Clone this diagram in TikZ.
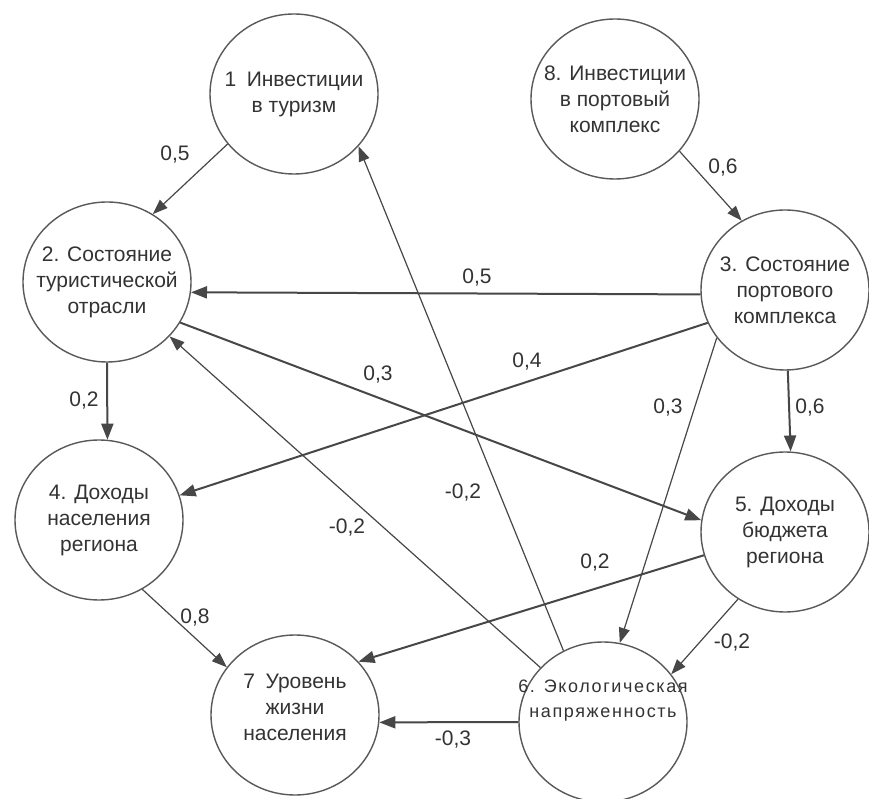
\documentclass[tikz,border=0pt]{standalone}
\usepackage{fontspec}
\setmainfont{Liberation Sans}
\usetikzlibrary{shapes.geometric,arrows.meta}
\begin{document}
\begin{tikzpicture}[x=1pt,y=1pt,
 state/.style={ellipse, draw=black!65, line width=1.4pt, minimum width=168pt, minimum height=160pt,
   inner xsep=-60pt, inner ysep=0pt, align=center, text=black!80, font=\fontsize{21}{26}\selectfont},
 thinarrow/.style={draw=black!72, line width=1.2pt, -{Triangle[length=15pt,width=11pt]}},
 thickarrow/.style={draw=black!72, line width=2pt, -{Triangle[length=16pt,width=12pt]}},
 lbl/.style={text=black!80, font=\fontsize{21}{24}\selectfont, inner sep=0pt}]
\useasboundingbox (0,0) rectangle (869,798);
\fill[white] (0,0) rectangle (869,798);
% states
\node[state] (n1) at (294,704) {1\enspace Инвестиции\\в туризм};
\node[state] (n2) at (107,516) {2. Состояние\\туристической\\отрасли};
\node[state] (n8) at (615,699) {8. Инвестиции\\в портовый\\комплекс};
\node[state] (n3) at (785,508) {3. Состояние\\портового\\комплекса};
\node[state] (n4) at (99,278) {4. Доходы\\населения\\региона};
\node[state] (n5) at (785,266) {5. Доходы\\бюджета\\региона};
\node[state, font=\fontsize{18}{25}\selectfont\addfontfeatures{LetterSpace=9}] (n6) at (603,76) {6. Экологическая\\напряженность\\[22pt]};
\node[state] (n7) at (295,83) {7\enspace Уровень\\жизни\\населения\\[-10pt]};
% connectors
\draw[thinarrow] (n1.217) -- (n2.56);
\draw[thinarrow] (n8.321) -- (n3.122);
\draw[thickarrow] (n3.183) -- (n2.353);
\draw[thickarrow] (n3.203) -- (n4.17);
\draw[thinarrow] (n3.215) -- (n6.78);
\draw[thickarrow] (n3.272) -- (n5.86);
\draw[thickarrow] (n2.270) -- (n4.84);
\draw[thickarrow] (n2.331) -- (n5.172);
\draw[thinarrow] (n6.139) -- (n2.319);
\draw[thinarrow] (n6.119) -- (n1.321);
\draw[thickarrow] (n5.196) -- (n7.40);
\draw[thinarrow] (n5.235) -- (n6.35);
\draw[thinarrow] (n4.302) -- (n7.145);
\draw[thickarrow] (n6.180) -- (n7.355);
% labels
\node[lbl] (l12) at (175,643) {0,5};
\node[lbl] (l83) at (723,630) {0,6};
\node[lbl] (l32) at (477,520) {0,5};
\node[lbl] (l34) at (527,436) {0,4};
\node[lbl] (l25) at (378,423) {0,3};
\node[lbl] (l24) at (84,397) {0,2};
\node[lbl] (l36) at (668,390) {0,3};
\node[lbl] (l35) at (810,390) {0,6};
\node[lbl] (l61) at (463,305) {-0,2};
\node[lbl] (l62) at (347,270) {-0,2};
\node[lbl] (l57) at (595,235) {0,2};
\node[lbl] (l56) at (732,155) {-0,2};
\node[lbl] (l47) at (195,180) {0,8};
\node[lbl] (l67) at (453,58) {-0,3};
\end{tikzpicture}
\end{document}
